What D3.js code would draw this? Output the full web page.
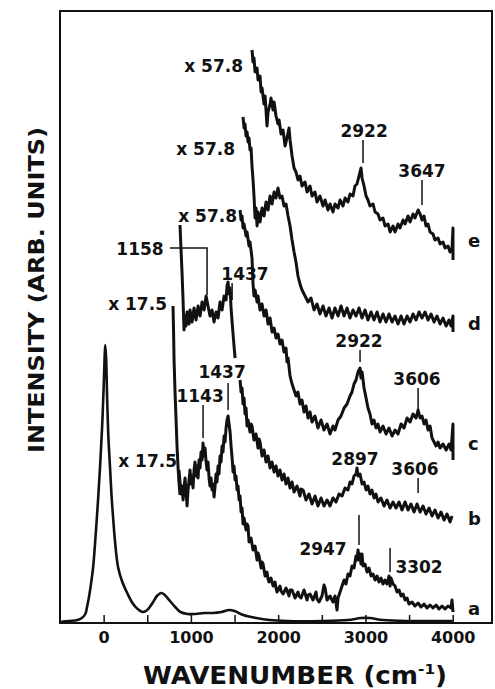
<!DOCTYPE html>
<html>
<head>
<meta charset="utf-8">
<script src="https://cdn.jsdelivr.net/npm/d3@7"></script>
<style>
    body { margin: 0; background: #fff; }
    text { font-family: "DejaVu Sans", sans-serif; font-weight: bold; fill: #111; }
</style>
</head>
<body>
<div id="spectra"></div>
<script>
// Spectra: [wavenumber (cm-1), intensity (arb. units, offsets included)]

// a: full spectrum, unscaled
const traceA = [
    [-500, 1], [-400, 2], [-300, 3], [-250, 5], [-210, 9], [-190, 16], [-170, 25], [-150, 36], [-120, 56],
    [-90, 90], [-64, 123], [-40, 158], [-18, 195], [0, 235], [10, 262], [18, 278], [28, 266], [40, 225],
    [55, 185], [73, 156], [90, 128], [108, 106], [130, 82], [165, 56], [210, 42], [270, 30], [330, 20],
    [390, 14], [450, 11], [500, 13], [560, 20], [610, 27], [660, 30], [700, 28], [760, 22], [820, 16],
    [880, 11], [960, 9], [1050, 9], [1150, 10], [1250, 10], [1350, 11], [1440, 13], [1500, 12], [1600, 8],
    [1750, 5], [1900, 3], [2100, 2], [2500, 2], [2800, 3], [2950, 5], [3050, 5], [3200, 3], [3500, 2], [4000, 2]
]

// a: x 17.5
const traceAx = [
    [864, 153], [875, 141], [887, 129], [898, 137], [910, 123], [921, 135], [933, 145], [944, 131], [956, 117],
    [967, 133], [979, 143], [990, 153], [1002, 139], [1013, 147], [1024, 135], [1036, 153], [1047, 161],
    [1059, 147], [1070, 157], [1082, 145], [1093, 163], [1105, 155], [1116, 171], [1128, 163], [1139, 180],
    [1151, 167], [1162, 175], [1174, 161], [1185, 153], [1196, 161], [1208, 145], [1219, 137], [1231, 145],
    [1242, 133], [1254, 139], [1265, 126], [1277, 137], [1288, 149], [1299, 141], [1311, 157], [1322, 149],
    [1334, 167], [1345, 161], [1357, 177], [1368, 171], [1380, 187], [1391, 181], [1403, 195], [1414, 203],
    [1426, 207], [1437, 199], [1449, 191], [1460, 177], [1472, 165], [1483, 151], [1494, 157], [1506, 143],
    [1517, 147], [1529, 133], [1540, 137], [1552, 123], [1563, 127], [1575, 111], [1586, 115], [1597, 99],
    [1609, 105], [1632, 93], [1643, 99], [1655, 97], [1666, 81], [1689, 85], [1700, 79], [1712, 73], [1735, 77],
    [1758, 63], [1769, 70], [1781, 67], [1804, 55], [1815, 61], [1827, 59], [1850, 47], [1872, 51], [1884, 44],
    [1895, 41], [1918, 45], [1941, 37], [1964, 41], [1975, 35], [1987, 31], [2021, 37], [2033, 32], [2056, 29],
    [2090, 35], [2124, 27], [2136, 33], [2159, 33], [2193, 25], [2227, 31], [2239, 27], [2262, 25],
    [2296, 33], [2331, 23], [2342, 28], [2365, 29], [2399, 23], [2434, 31], [2445, 24], [2468, 21],
    [2502, 27], [2525, 38], [2537, 35], [2560, 23], [2594, 27], [2628, 21], [2651, 27], [2674, 13], [2686, 25],
    [2709, 31], [2732, 37], [2755, 43], [2777, 39], [2800, 49], [2823, 47], [2846, 57], [2869, 55],
    [2892, 67], [2903, 63], [2915, 73], [2926, 63], [2938, 69], [2949, 59], [2961, 69], [2972, 57],
    [2995, 59], [3018, 51], [3041, 55], [3064, 47], [3087, 49], [3110, 43], [3133, 47], [3155, 41],
    [3178, 45], [3201, 39], [3224, 43], [3247, 39], [3270, 47], [3282, 37], [3293, 45], [3316, 39],
    [3339, 37], [3362, 31], [3385, 33], [3408, 27], [3431, 29], [3454, 23], [3477, 25], [3499, 19],
    [3534, 21], [3568, 17], [3603, 20], [3637, 16], [3671, 19], [3706, 15], [3740, 18], [3774, 15],
    [3809, 18], [3843, 14], [3878, 17], [3912, 14], [3946, 17], [3981, 15], [3992, 23], [4003, 11]
]

// b: x 17.5, low and high segments
const traceBlow = [
    [795, 317], [801, 293], [807, 263], [818, 231], [830, 203], [841, 177], [853, 155], [864, 140], [875, 128]
]
const traceBhigh = [
    [1563, 243], [1575, 231], [1586, 235], [1597, 219], [1609, 225], [1620, 209], [1632, 215], [1643, 197],
    [1655, 203], [1677, 191], [1689, 199], [1700, 197], [1723, 183], [1746, 189], [1769, 175], [1781, 184],
    [1792, 181], [1815, 167], [1838, 173], [1861, 161], [1884, 167], [1907, 155], [1930, 161], [1953, 151],
    [1975, 157], [1998, 147], [2021, 153], [2044, 143], [2067, 149], [2090, 139], [2113, 145], [2136, 135],
    [2159, 141], [2182, 131], [2216, 137], [2250, 127], [2262, 134], [2285, 133], [2319, 123], [2353, 129],
    [2388, 119], [2422, 127], [2456, 117], [2491, 125], [2525, 117], [2560, 123], [2594, 117], [2628, 125],
    [2663, 121], [2697, 129], [2732, 127], [2766, 135], [2800, 133], [2823, 141], [2846, 139], [2869, 147],
    [2892, 149], [2903, 155], [2915, 147], [2938, 149], [2961, 139], [2984, 141], [3007, 133], [3029, 137],
    [3052, 129], [3075, 133], [3098, 125], [3121, 129], [3144, 121], [3178, 125], [3213, 117], [3247, 123],
    [3282, 115], [3316, 121], [3350, 115], [3385, 121], [3419, 113], [3454, 121], [3488, 113], [3522, 119],
    [3557, 111], [3591, 119], [3626, 111], [3660, 117], [3694, 109], [3729, 115], [3763, 107], [3797, 113],
    [3832, 105], [3866, 111], [3901, 103], [3935, 109], [3969, 101], [3992, 107]
]

// c: x 57.8, low and high segments
const traceClow = [
    [875, 398], [887, 373], [898, 351], [910, 323], [921, 293], [933, 307], [944, 297], [956, 311], [979, 299],
    [990, 313], [1013, 301], [1036, 315], [1059, 303], [1082, 317], [1105, 307], [1128, 321], [1151, 313],
    [1174, 327], [1196, 317], [1219, 307], [1242, 313], [1265, 301], [1288, 311], [1311, 305], [1334, 321],
    [1357, 313], [1380, 327], [1403, 323], [1414, 337], [1426, 341], [1437, 329], [1449, 335], [1460, 315],
    [1472, 301], [1483, 289], [1494, 277], [1506, 265]
]
const traceChigh = [
    [1563, 413], [1575, 403], [1586, 407], [1597, 395], [1609, 399], [1632, 387], [1643, 391], [1666, 377],
    [1677, 381], [1700, 365], [1712, 339], [1723, 327], [1735, 333], [1758, 321], [1769, 327], [1792, 313],
    [1815, 319], [1838, 307], [1861, 313], [1884, 299], [1907, 305], [1930, 291], [1953, 295], [1975, 285],
    [1998, 289], [2021, 279], [2044, 283], [2067, 271], [2090, 275], [2101, 261], [2113, 265], [2136, 247],
    [2159, 239], [2182, 233], [2204, 227], [2227, 231], [2250, 219], [2273, 223], [2296, 211], [2319, 217],
    [2342, 205], [2365, 211], [2388, 201], [2422, 207], [2456, 195], [2491, 203], [2525, 193], [2560, 199],
    [2594, 189], [2628, 197], [2651, 193], [2686, 203], [2720, 207], [2755, 215], [2789, 219], [2823, 227],
    [2846, 231], [2869, 239], [2892, 243], [2915, 251], [2938, 255], [2949, 245], [2961, 251], [2984, 235],
    [3007, 225], [3029, 215], [3052, 209], [3075, 199], [3098, 203], [3121, 195], [3144, 199], [3167, 191],
    [3201, 197], [3236, 189], [3270, 195], [3305, 187], [3339, 193], [3373, 189], [3408, 199], [3442, 195],
    [3477, 205], [3511, 201], [3545, 209], [3580, 205], [3603, 213], [3626, 205], [3648, 207], [3671, 199],
    [3694, 203], [3717, 193], [3740, 197], [3763, 185], [3786, 181], [3809, 177], [3832, 181], [3855, 175],
    [3889, 179], [3924, 173], [3958, 179], [3981, 173], [4003, 199], [4003, 163]
]

// d: x 57.8
const traceD = [
    [1597, 506], [1609, 495], [1620, 499], [1632, 487], [1643, 491], [1655, 481], [1666, 485], [1677, 473],
    [1689, 475], [1700, 457], [1712, 443], [1723, 427], [1735, 405], [1746, 415], [1758, 397], [1769, 411],
    [1792, 401], [1815, 415], [1838, 407], [1861, 421], [1884, 413], [1907, 427], [1930, 419], [1953, 431],
    [1975, 425], [1998, 435], [2021, 425], [2044, 427], [2067, 417], [2090, 419], [2113, 407], [2136, 397],
    [2159, 383], [2182, 371], [2204, 361], [2227, 347], [2250, 339], [2273, 333], [2308, 327], [2342, 321],
    [2376, 325], [2411, 313], [2445, 319], [2479, 309], [2514, 317], [2548, 307], [2583, 315], [2617, 305],
    [2651, 315], [2686, 307], [2720, 317], [2755, 307], [2789, 315], [2823, 305], [2857, 313], [2892, 307],
    [2926, 315], [2961, 305], [2995, 313], [3029, 303], [3064, 311], [3098, 303], [3133, 311], [3167, 301],
    [3201, 309], [3236, 301], [3270, 309], [3305, 301], [3339, 307], [3373, 299], [3408, 307], [3442, 299],
    [3477, 307], [3511, 301], [3545, 309], [3580, 303], [3614, 311], [3648, 305], [3683, 311], [3717, 303],
    [3752, 309], [3786, 301], [3820, 307], [3855, 299], [3889, 305], [3924, 297], [3958, 303], [3981, 297],
    [4003, 307], [4003, 291]
]

// e: x 57.8
const traceE = [
    [1700, 573], [1712, 561], [1723, 565], [1735, 551], [1758, 555], [1769, 543], [1792, 547], [1804, 531],
    [1815, 535], [1838, 519], [1850, 527], [1872, 497], [1884, 511], [1907, 519], [1918, 525], [1941, 513],
    [1953, 521], [1975, 507], [1998, 499], [2010, 503], [2033, 489], [2056, 493], [2079, 477], [2101, 485],
    [2124, 495], [2136, 483], [2159, 467], [2182, 455], [2204, 451], [2227, 443], [2250, 447], [2273, 437],
    [2308, 441], [2331, 431], [2365, 437], [2388, 427], [2422, 431], [2445, 421], [2479, 427], [2514, 417],
    [2537, 423], [2571, 413], [2594, 419], [2628, 411], [2651, 419], [2686, 415], [2709, 423], [2743, 417],
    [2766, 425], [2800, 421], [2823, 429], [2857, 427], [2880, 437], [2903, 439], [2926, 447], [2949, 455],
    [2961, 445], [2984, 437], [3007, 427], [3029, 423], [3052, 417], [3087, 419], [3110, 411], [3144, 409],
    [3167, 403], [3201, 405], [3224, 397], [3259, 399], [3282, 391], [3316, 397], [3339, 391], [3373, 399],
    [3396, 395], [3431, 403], [3454, 399], [3488, 407], [3511, 401], [3545, 409], [3568, 405], [3603, 413],
    [3626, 409], [3648, 403], [3671, 407], [3694, 397], [3717, 399], [3740, 391], [3774, 389], [3797, 383],
    [3832, 385], [3855, 379], [3889, 381], [3912, 375], [3946, 377], [3969, 371], [3992, 375], [4003, 395],
    [4003, 363]
]

// Axis ticks
const xTickValues = [0, 500, 1000, 1500, 2000, 2500, 3000, 3500, 4000]
const xTickLabels = ["0", "", "1000", "", "2000", "", "3000", "", "4000"]

// Trace letters and the intensity of their baselines
const traceNames = ["e", "d", "c", "b", "a"]
const traceNameLevels = [376, 293, 173, 98, 8]

// Scale factors: [text, wavenumber at right end, intensity]
const scaleNotes = [
    ["x 57.8", 1597, 551], ["x 57.8", 1506, 468], ["x 57.8", 1529, 401],
    ["x 17.5", 726, 313], ["x 17.5", 841, 156]
]

// Peak labels: text, label centre, baseline, marker wavenumber, marker top/bottom
const peakNotes = [
    { text: "2922", at: 2984, level: 486, wn: 2972, from: 483, to: 460 },
    { text: "3647", at: 3648, level: 446, wn: 3648, from: 443, to: 418 },
    { text: "2922", at: 2926, level: 276, wn: 2938, from: 273, to: 261 },
    { text: "3606", at: 3591, level: 238, wn: 3603, from: 235, to: 213 },
    { text: "1437", at: 1620, level: 343, wn: 1472, from: 340, to: 323 },
    { text: "2897", at: 2880, level: 158 },
    { text: "3606", at: 3568, level: 148, wn: 3603, from: 145, to: 130 },
    { text: "1437", at: 1357, level: 245, wn: 1426, from: 240, to: 213 },
    { text: "1143", at: 1105, level: 221, wn: 1139, from: 218, to: 185 },
    { text: "2947", at: 2514, level: 68, wn: 2926, from: 108, to: 78 },
    { text: "3302", at: 3614, level: 50, wn: 3282, from: 75, to: 51 }
]
// 1158 label with bracket
const bracketNote = { text: "1158", at: 417, level: 368, path: [[761, 375], [1185, 375], [1185, 328]] }

const width = 495, height = 689

const svg = d3.select("#spectra")
    .append("svg")
    .attr("width", width)
    .attr("height", height)

const x = d3.scaleLinear().domain([-500, 4450]).range([60, 492])
const y = d3.scaleLinear().domain([0, 612]).range([623, 11])

// Frame
svg.append("rect")
    .attr("x", x.range()[0])
    .attr("y", y.range()[1])
    .attr("width", x.range()[1] - x.range()[0])
    .attr("height", y.range()[0] - y.range()[1])
    .attr("fill", "none")
    .attr("stroke", "#111")
    .attr("stroke-width", 2)

// Bottom axis, ticks pointing inward
const xAxis = svg.append("g")
    .attr("transform", `translate(0, ${y.range()[0]})`)
    .call(d3.axisBottom(x)
        .tickValues(xTickValues)
        .tickFormat((d, i) => xTickLabels[i])
        .tickSize(-8)
        .tickPadding(9))
xAxis.select(".domain").remove()
xAxis.selectAll("line").attr("stroke", "#111").attr("stroke-width", 1.5)
xAxis.selectAll("text")
    .attr("font-size", 16)
    .style("font-family", "DejaVu Sans")
    .style("font-weight", "bold")
    .attr("fill", "#111")

// Axis titles
const xTitle = svg.append("text")
    .attr("x", 295)
    .attr("y", 684)
    .attr("text-anchor", "middle")
    .attr("font-size", 24)
    .attr("textLength", 304)
    .attr("lengthAdjust", "spacingAndGlyphs")
xTitle.append("tspan").text("WAVENUMBER (cm")
xTitle.append("tspan").attr("font-size", 14).attr("dy", -10).text("-1")
xTitle.append("tspan").attr("dy", 10).text(")")

svg.append("text")
    .attr("transform", "translate(44, 290) rotate(-90)")
    .attr("text-anchor", "middle")
    .attr("font-size", 21)
    .attr("textLength", 326)
    .attr("lengthAdjust", "spacingAndGlyphs")
    .text("INTENSITY (ARB. UNITS)")

// Spectra
const smooth = d3.line().x(d => x(d[0])).y(d => y(d[1])).curve(d3.curveCatmullRom)
const jagged = d3.line().x(d => x(d[0])).y(d => y(d[1]))

const traces = svg.append("g").attr("fill", "none").attr("stroke", "#111")

traces.append("path")
    .attr("d", smooth(traceA))
    .attr("stroke-width", 2.6)

traces.selectAll(".noisy")
    .data([traceAx, traceBlow, traceBhigh, traceClow, traceChigh, traceD, traceE])
    .enter()
    .append("path")
    .attr("class", "noisy")
    .attr("d", d => jagged(d))
    .attr("stroke-width", 3)
    .attr("stroke-linejoin", "round")

// Trace letters
svg.selectAll(".trace-name")
    .data(traceNames)
    .enter()
    .append("text")
    .attr("class", "trace-name")
    .attr("x", x(4175))
    .attr("y", (d, i) => y(traceNameLevels[i]))
    .attr("font-size", 18)
    .text(d => d)

// Scale factors
svg.selectAll(".scale-note")
    .data(scaleNotes)
    .enter()
    .append("text")
    .attr("class", "scale-note")
    .attr("x", d => x(d[1]))
    .attr("y", d => y(d[2]))
    .attr("text-anchor", "end")
    .attr("font-size", 17)
    .text(d => d[0])

// Peak labels and markers
svg.selectAll(".peak-note")
    .data(peakNotes)
    .enter()
    .append("text")
    .attr("class", "peak-note")
    .attr("x", d => x(d.at))
    .attr("y", d => y(d.level))
    .attr("text-anchor", "middle")
    .attr("font-size", 17)
    .text(d => d.text)

svg.selectAll(".peak-mark")
    .data(peakNotes.filter(d => d.wn))
    .enter()
    .append("line")
    .attr("class", "peak-mark")
    .attr("x1", d => x(d.wn))
    .attr("x2", d => x(d.wn))
    .attr("y1", d => y(d.from))
    .attr("y2", d => y(d.to))
    .attr("stroke", "#111")
    .attr("stroke-width", 1.5)

svg.append("text")
    .attr("x", x(bracketNote.at))
    .attr("y", y(bracketNote.level))
    .attr("text-anchor", "middle")
    .attr("font-size", 17)
    .text(bracketNote.text)

svg.append("path")
    .attr("d", jagged(bracketNote.path))
    .attr("fill", "none")
    .attr("stroke", "#111")
    .attr("stroke-width", 1.5)
</script>
</body>
</html>
